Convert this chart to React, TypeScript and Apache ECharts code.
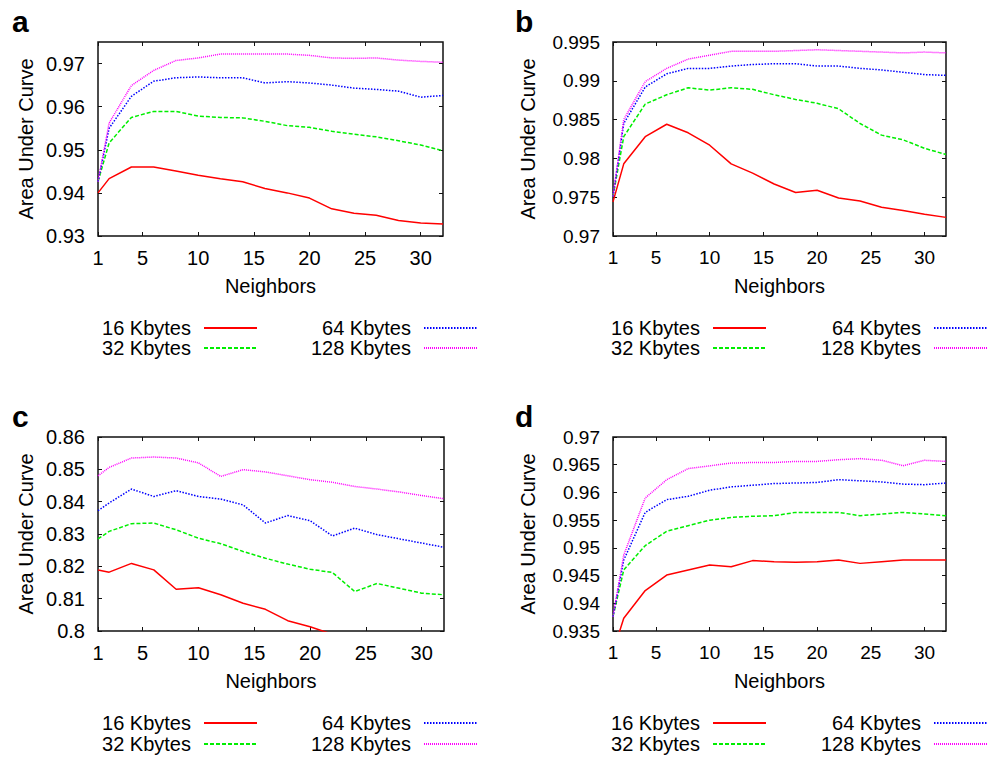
import React, { useEffect, useRef } from 'react';
import * as echarts from 'echarts';

// ---------- data ----------
const NEIGHBORS = [1, 2, 4, 6, 8, 10, 12, 14, 16, 18, 20, 22, 24, 26, 28, 30, 32];
const SERIES_NAMES = ['16 Kbytes', '32 Kbytes', '64 Kbytes', '128 Kbytes'];
const PANEL_LABELS = ['a', 'b', 'c', 'd'];
const X_TICKS = [1, 5, 10, 15, 20, 25, 30];

const A_16 = [0.9400, 0.9433, 0.9460, 0.9460, 0.9451, 0.9441, 0.9433, 0.9426, 0.9410, 0.9400, 0.9388, 0.9363, 0.9353, 0.9348, 0.9336, 0.9330, 0.9328];
const A_32 = [0.9426, 0.9516, 0.9575, 0.9589, 0.9589, 0.9578, 0.9575, 0.9574, 0.9566, 0.9556, 0.9552, 0.9543, 0.9536, 0.9530, 0.9521, 0.9511, 0.9498];
const A_64 = [0.9426, 0.9550, 0.9624, 0.9659, 0.9667, 0.9669, 0.9667, 0.9667, 0.9655, 0.9658, 0.9655, 0.9650, 0.9643, 0.9640, 0.9636, 0.9622, 0.9626];
const A_128 = [0.9426, 0.9562, 0.9649, 0.9684, 0.9707, 0.9713, 0.9722, 0.9722, 0.9722, 0.9722, 0.9719, 0.9713, 0.9712, 0.9713, 0.9708, 0.9705, 0.9703];

const B_16 = [0.9744, 0.9793, 0.9828, 0.9844, 0.9833, 0.9817, 0.9793, 0.9781, 0.9767, 0.9756, 0.9759, 0.9749, 0.9745, 0.9737, 0.9733, 0.9728, 0.9724];
const B_32 = [0.9751, 0.9828, 0.9870, 0.9882, 0.9891, 0.9888, 0.9891, 0.9889, 0.9882, 0.9876, 0.9871, 0.9864, 0.9845, 0.9830, 0.9824, 0.9813, 0.9805];
const B_64 = [0.9751, 0.9845, 0.9892, 0.9909, 0.9916, 0.9916, 0.9919, 0.9921, 0.9922, 0.9922, 0.9919, 0.9919, 0.9916, 0.9914, 0.9911, 0.9908, 0.9907];
const B_128 = [0.9751, 0.9850, 0.9899, 0.9916, 0.9928, 0.9933, 0.9938, 0.9938, 0.9938, 0.9939, 0.9940, 0.9939, 0.9938, 0.9937, 0.9936, 0.9937, 0.9936];

const C_16 = [0.8189, 0.8182, 0.8209, 0.8189, 0.8129, 0.8134, 0.8112, 0.8086, 0.8067, 0.8032, 0.8013, 0.7990, 0.7975, 0.7965, 0.7950, 0.7940, 0.7930];
const C_32 = [0.8285, 0.8308, 0.8332, 0.8334, 0.8313, 0.8287, 0.8270, 0.8246, 0.8225, 0.8207, 0.8191, 0.8181, 0.8122, 0.8147, 0.8132, 0.8117, 0.8112];
const C_64 = [0.8372, 0.8396, 0.8439, 0.8416, 0.8434, 0.8416, 0.8408, 0.8390, 0.8334, 0.8357, 0.8341, 0.8294, 0.8318, 0.8298, 0.8285, 0.8272, 0.8259];
const C_128 = [0.8480, 0.8506, 0.8535, 0.8538, 0.8535, 0.8520, 0.8478, 0.8499, 0.8492, 0.8480, 0.8468, 0.8460, 0.8447, 0.8439, 0.8430, 0.8419, 0.8409];

const D_16 = [0.9312, 0.9373, 0.9423, 0.9451, 0.9460, 0.9469, 0.9466, 0.9477, 0.9475, 0.9474, 0.9475, 0.9478, 0.9472, 0.9475, 0.9478, 0.9478, 0.9478];
const D_32 = [0.9376, 0.9460, 0.9504, 0.9530, 0.9540, 0.9550, 0.9555, 0.9557, 0.9558, 0.9564, 0.9564, 0.9564, 0.9558, 0.9561, 0.9564, 0.9561, 0.9558];
const D_64 = [0.9376, 0.9478, 0.9564, 0.9587, 0.9593, 0.9604, 0.9610, 0.9613, 0.9616, 0.9617, 0.9618, 0.9623, 0.9621, 0.9619, 0.9615, 0.9614, 0.9617];
const D_128 = [0.9376, 0.9487, 0.9590, 0.9623, 0.9643, 0.9648, 0.9653, 0.9654, 0.9654, 0.9656, 0.9656, 0.9659, 0.9661, 0.9658, 0.9648, 0.9658, 0.9656];

const Y_TICKS_A = [0.93, 0.94, 0.95, 0.96, 0.97];
const Y_TICKS_B = [0.97, 0.975, 0.98, 0.985, 0.99, 0.995];
const Y_TICKS_C = [0.8, 0.81, 0.82, 0.83, 0.84, 0.85, 0.86];
const Y_TICKS_D = [0.935, 0.94, 0.945, 0.95, 0.955, 0.96, 0.965, 0.97];

const PANEL_DATA = [
  [A_16, A_32, A_64, A_128],
  [B_16, B_32, B_64, B_128],
  [C_16, C_32, C_64, C_128],
  [D_16, D_32, D_64, D_128],
];
const PANEL_Y_TICKS = [Y_TICKS_A, Y_TICKS_B, Y_TICKS_C, Y_TICKS_D];
const PANEL_Y_RANGE = [
  [0.93, 0.975],
  [0.97, 0.995],
  [0.8, 0.86],
  [0.935, 0.97],
];

// ---------- styles / layout ----------
const FONT = '"Liberation Sans", Arial, Helvetica, sans-serif';
const COLORS = ['#ff0000', '#00ee00', '#0000ff', '#ff00ff'];
const DASHES: any[] = ['solid', [4, 2], [1.5, 1.5], [1, 1]];

const LAYOUT = [
  { left: 98, top: 42, width: 345, height: 194, tickFont: 20, yNameGap: 62, labelX: 12, labelY: 21, legendRight: [738, 518], legendTop: [318, 338] },
  { left: 613, top: 42, width: 333, height: 194, tickFont: 19, yNameGap: 75, labelX: 515, labelY: 21, legendRight: [229, 8], legendTop: [318, 338] },
  { left: 98, top: 437, width: 346, height: 194, tickFont: 20, yNameGap: 62, labelX: 12, labelY: 416, legendRight: [738, 518], legendTop: [713, 734] },
  { left: 613, top: 437, width: 333, height: 194, tickFont: 19, yNameGap: 75, labelX: 515, labelY: 416, legendRight: [229, 8], legendTop: [713, 734] },
];

const fmt = (v: number) => String(parseFloat(Number(v).toFixed(4)));

function buildOption() {
  const grid: any[] = [];
  const xAxis: any[] = [];
  const yAxis: any[] = [];
  const series: any[] = [];
  const legend: any[] = [];
  const graphic: any[] = [];

  LAYOUT.forEach((p) => {
    grid.push({
      left: p.left, top: p.top, width: p.width, height: p.height,
      show: true, borderColor: '#111', borderWidth: 1.5, backgroundColor: 'transparent',
      containLabel: false,
    });
  });

  // primary x axes
  LAYOUT.forEach((p, i) => {
    xAxis.push({
      type: 'value', gridIndex: i, position: 'bottom', min: 1, max: 32,
      name: 'Neighbors', nameLocation: 'middle', nameGap: 40,
      nameTextStyle: { fontSize: 20, color: '#000', fontFamily: FONT },
      axisLine: { show: false },
      splitLine: { show: false },
      axisTick: { show: true, inside: true, length: 4, customValues: X_TICKS, lineStyle: { color: '#111', width: 1 } },
      axisLabel: { show: true, customValues: X_TICKS, margin: 12, fontSize: p.tickFont, color: '#000', fontFamily: FONT, formatter: (v: number) => fmt(v) },
    });
  });
  // mirror x axes (top)
  LAYOUT.forEach((p, i) => {
    xAxis.push({
      type: 'value', gridIndex: i, position: 'top', min: 1, max: 32,
      axisLine: { show: false }, splitLine: { show: false },
      axisTick: { show: true, inside: true, length: 4, customValues: X_TICKS, lineStyle: { color: '#111', width: 1 } },
      axisLabel: { show: false },
    });
  });
  // primary y axes
  LAYOUT.forEach((p, i) => {
    const ticks = PANEL_Y_TICKS[i];
    yAxis.push({
      type: 'value', gridIndex: i, position: 'left',
      min: PANEL_Y_RANGE[i][0], max: PANEL_Y_RANGE[i][1],
      name: 'Area Under Curve', nameLocation: 'middle', nameGap: p.yNameGap, nameRotate: 90,
      nameTextStyle: { fontSize: 20, color: '#000', fontFamily: FONT },
      axisLine: { show: false }, splitLine: { show: false },
      axisTick: { show: true, inside: true, length: 4, customValues: ticks, lineStyle: { color: '#111', width: 1 } },
      axisLabel: { show: true, customValues: ticks, margin: 13, fontSize: p.tickFont, color: '#000', fontFamily: FONT, formatter: (v: number) => fmt(v) },
    });
  });
  // mirror y axes (right)
  LAYOUT.forEach((p, i) => {
    const ticks = PANEL_Y_TICKS[i];
    yAxis.push({
      type: 'value', gridIndex: i, position: 'right',
      min: PANEL_Y_RANGE[i][0], max: PANEL_Y_RANGE[i][1],
      axisLine: { show: false }, splitLine: { show: false },
      axisTick: { show: true, inside: true, length: 4, customValues: ticks, lineStyle: { color: '#111', width: 1 } },
      axisLabel: { show: false },
    });
  });

  // series
  PANEL_DATA.forEach((panel, i) => {
    panel.forEach((vals, j) => {
      series.push({
        type: 'line',
        name: SERIES_NAMES[j],
        xAxisIndex: i,
        yAxisIndex: i,
        data: NEIGHBORS.map((x, k) => [x, vals[k]]),
        symbol: 'none',
        showSymbol: false,
        clip: true,
        lineStyle: { color: COLORS[j], width: 1.5, type: DASHES[j] },
        itemStyle: { color: COLORS[j] },
        emphasis: { disabled: true },
      });
    });
  });

  // legends: one per item so text is right-aligned against its line sample
  LAYOUT.forEach((p) => {
    SERIES_NAMES.forEach((name, j) => {
      const col = j < 2 ? 0 : 1;
      const row = j % 2;
      legend.push({
        data: [name],
        orient: 'vertical',
        align: 'right',
        right: p.legendRight[col],
        top: p.legendTop[row],
        padding: 0,
        itemWidth: 53,
        itemHeight: 24,
        selectedMode: false,
        itemStyle: { opacity: 0, borderWidth: 0 },
        formatter: '{t|{name}}',
        textStyle: {
          color: '#000', fontSize: 20, fontFamily: FONT,
          rich: { t: { color: '#000', fontSize: 20, fontFamily: FONT, padding: [0, 8, 0, 0] } },
        },
      });
    });
  });

  // panel letters
  LAYOUT.forEach((p, i) => {
    graphic.push({
      type: 'text',
      left: p.labelX,
      top: p.labelY - 15,
      style: {
        text: PANEL_LABELS[i],
        fill: '#000',
        font: `bold 30px ${FONT}`,
      },
    });
  });

  return {
    animation: false,
    backgroundColor: '#ffffff',
    textStyle: { fontFamily: FONT },
    grid, xAxis, yAxis, series, legend, graphic,
  };
}

export default function App() {
  const ref = useRef<HTMLDivElement>(null);
  useEffect(() => {
    if (!ref.current) return;
    const chart = echarts.init(ref.current, null, { renderer: 'svg' });
    chart.setOption(buildOption() as any);
    return () => chart.dispose();
  }, []);
  return (
    <div
      ref={ref}
      style={{ position: 'fixed', left: 0, top: 0, width: 996, height: 757, background: '#fff' }}
    />
  );
}
